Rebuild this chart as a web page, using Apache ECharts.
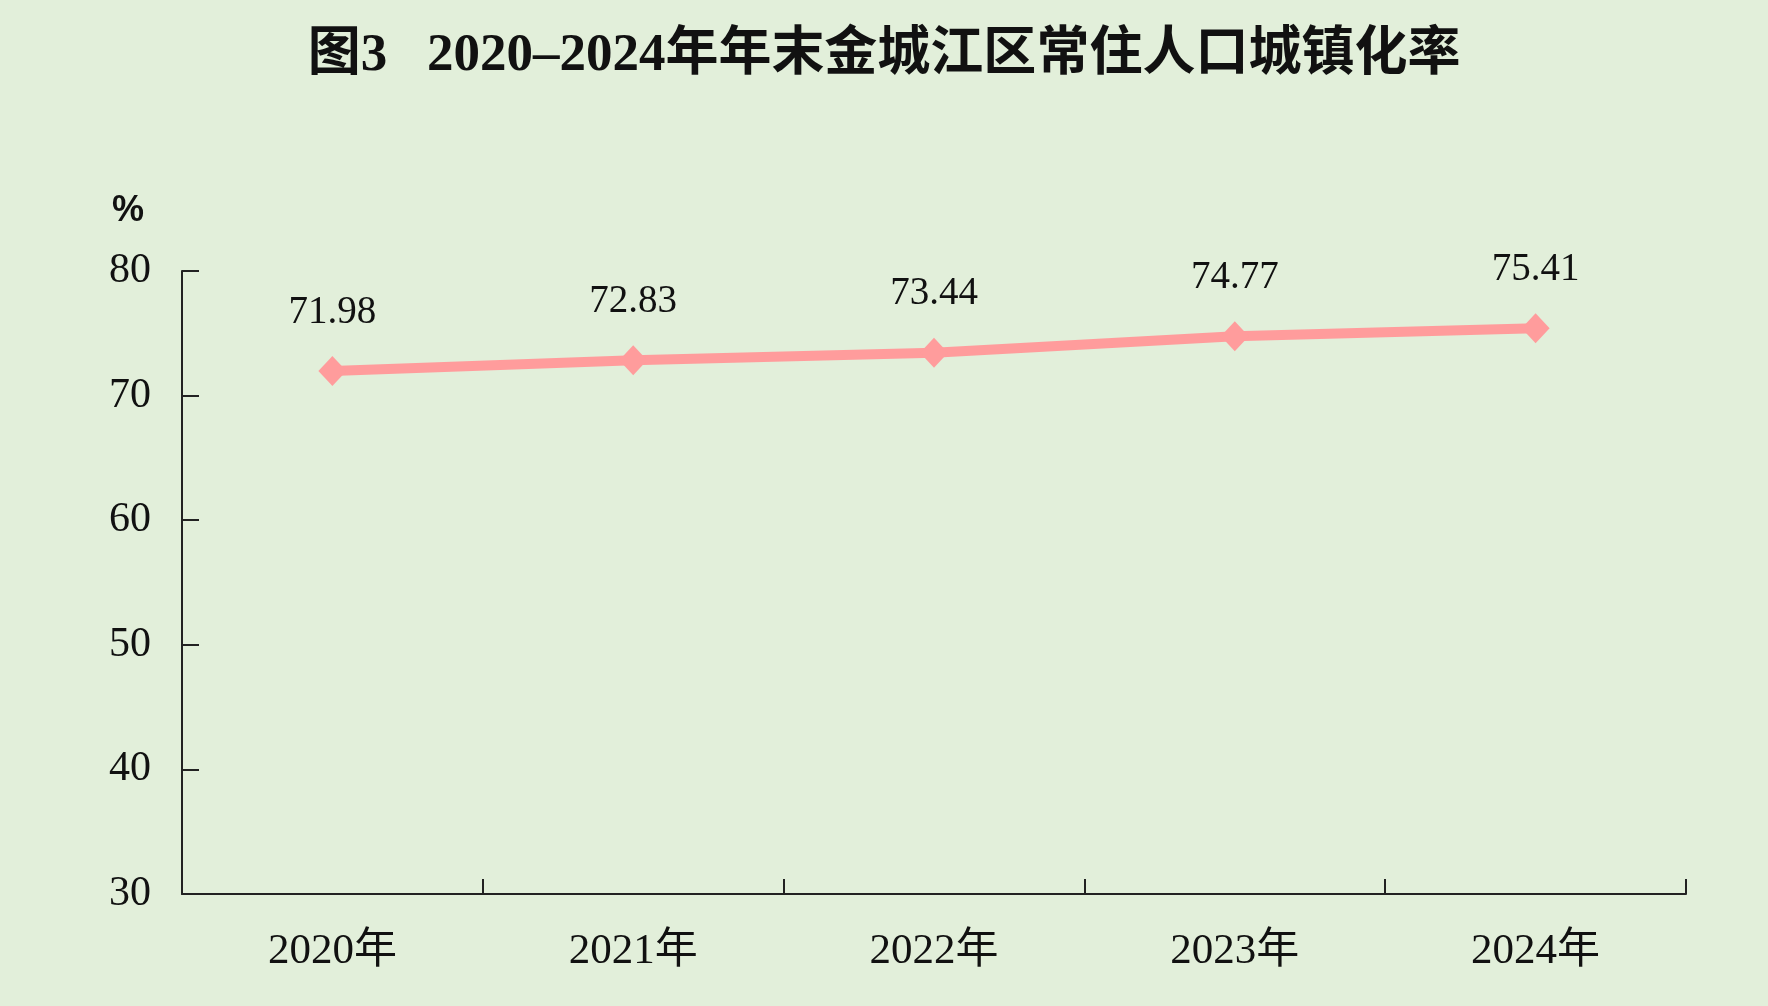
<!DOCTYPE html>
<html>
<head>
<meta charset="utf-8">
<title>城镇化率</title>
<script src="https://cdn.jsdelivr.net/npm/echarts@6/dist/echarts.min.js"></script>
<style>
  html, body { margin: 0; padding: 0; background: #e2efda; }
  #main { width: 1768px; height: 1006px; }
</style>
</head>
<body>
<div id="main"></div>
<script>
// 年份
var years = ['2020年', '2021年', '2022年', '2023年', '2024年']
// 常住人口城镇化率（%）
var rates = [71.98, 72.83, 73.44, 74.77, 75.41]
// 纵轴刻度
var yTicks = [30, 40, 50, 60, 70, 80]

var fontFamily = '"Liberation Serif", "Times New Roman", "Noto Sans CJK SC", serif'

var myChart = echarts.init(document.getElementById('main'))
var option = {
  backgroundColor: '#e2efda',
  animation: false,
  title: {
    text: '图3   2020–2024年年末金城江区常住人口城镇化率',
    left: 'center',
    top: 25,
    textStyle: {
      fontFamily: fontFamily,
      fontSize: 53,
      fontWeight: 'bold',
      color: '#111',
    },
  },
  graphic: [
    {
      type: 'text',
      left: 112,
      top: 193,
      style: {
        text: '%',
        fontFamily: '"Liberation Sans", Arial, sans-serif',
        fontSize: 36,
        fontWeight: 'bold',
        fill: '#111',
      },
    },
  ],
  grid: {
    top: 271,
    left: 182,
    right: 82,
    bottom: 112,
  },
  xAxis: {
    type: 'category',
    data: years,
    boundaryGap: true,
    axisLine: {
      show: true,
      lineStyle: { color: '#222', width: 2 },
    },
    axisTick: {
      show: true,
      inside: true,
      length: 15,
      lineStyle: { color: '#222', width: 2 },
    },
    axisLabel: {
      margin: 36,
      color: '#111',
      fontSize: 43,
      fontFamily: fontFamily,
    },
    splitLine: { show: false },
  },
  yAxis: {
    type: 'value',
    min: yTicks[0],
    max: yTicks[yTicks.length - 1],
    interval: 10,
    axisLine: {
      show: true,
      lineStyle: { color: '#222', width: 2 },
    },
    axisTick: {
      show: true,
      inside: true,
      length: 17,
      lineStyle: { color: '#222', width: 2 },
    },
    axisLabel: {
      margin: 31,
      color: '#111',
      fontSize: 42,
      fontFamily: fontFamily,
    },
    splitLine: { show: false },
  },
  series: [
    {
      name: '城镇化率',
      type: 'line',
      data: rates,
      symbol: 'diamond',
      symbolSize: [28, 30],
      lineStyle: { color: '#ff9c9c', width: 10 },
      itemStyle: { color: '#ff9c9c' },
      label: {
        show: true,
        position: 'top',
        distance: 24,
        color: '#111',
        fontSize: 39,
        fontFamily: fontFamily,
        formatter: function(p) {
          return p.value.toFixed(2)
        },
      },
    },
  ],
}
myChart.setOption(option)
window.addEventListener('resize', function() {
  myChart.resize()
})
</script>
</body>
</html>
